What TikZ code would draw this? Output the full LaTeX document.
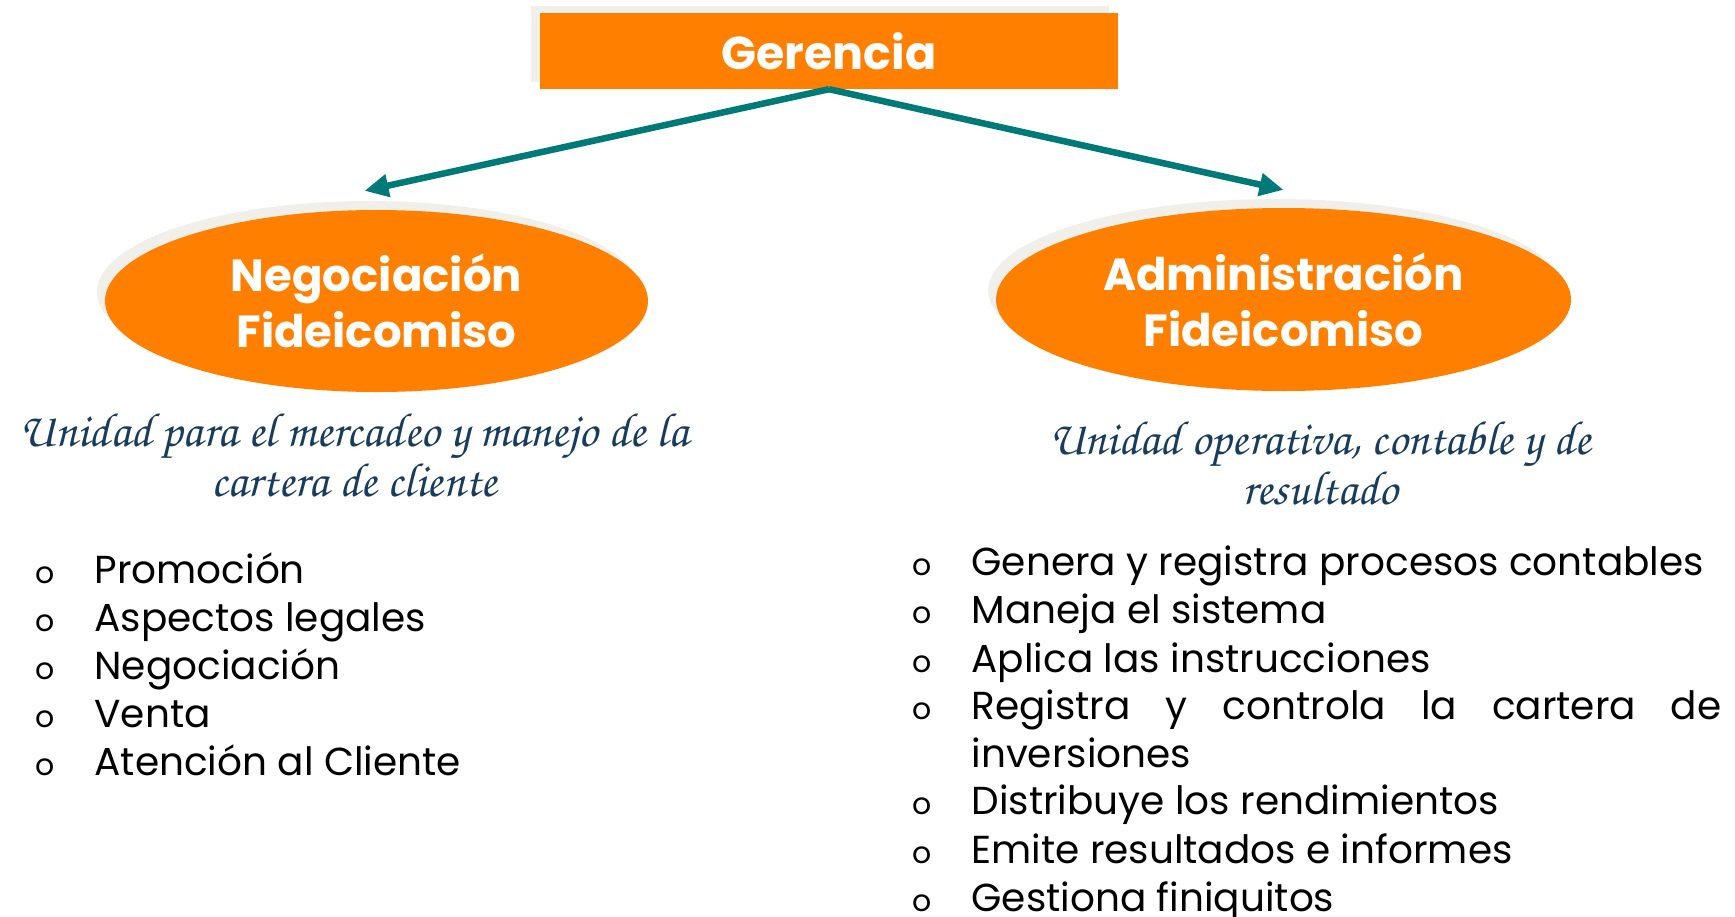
\documentclass[tikz,border=0pt]{standalone}
\usepackage{fontspec}
\setmainfont{Poppins}
\newfontfamily\notafont{TeX Gyre Chorus}
\usetikzlibrary{arrows.meta,shapes.geometric,shadows}

\definecolor{naranja}{RGB}{255,128,0}
\definecolor{sombra}{RGB}{240,239,234}
\definecolor{verdeazul}{RGB}{0,122,120}
\definecolor{azulnota}{RGB}{24,60,94}

\begin{document}
\begin{tikzpicture}[x=1pt,y=-1pt,>={Triangle[length=24pt,width=22pt]},
    caja/.style={rectangle,fill=naranja,text=white,inner sep=0pt,
      minimum width=578pt,minimum height=76pt,
      font=\bfseries\fontsize{46}{54}\selectfont,
      drop shadow={shadow xshift=-9pt,shadow yshift=7pt,fill=sombra,opacity=1}},
    unidad/.style={ellipse,fill=naranja,text=white,align=center,inner sep=0pt,
      font=\bfseries\fontsize{45}{56}\selectfont,
      drop shadow={shadow xshift=-8pt,shadow yshift=9pt,fill=sombra,opacity=1}},
    nota/.style={align=center,text=azulnota,font=\notafont\fontsize{48}{50}\selectfont},
    punto/.style={anchor=base,font=\fontsize{30}{36}\selectfont},
    tarea/.style={anchor=base west,font=\fontsize{39}{48}\selectfont},
    flecha/.style={->,draw=verdeazul,line width=6.5pt}]

  \useasboundingbox (0,0) rectangle (1735,916);

  \node[caja] (ger) at (829,51) {Gerencia};
  \node[unidad,minimum width=543pt,minimum height=182pt] (neg) at (376.5,301) {Negociación\\Fideicomiso};
  \node[unidad,minimum width=575pt,minimum height=183pt] (adm) at (1283.5,299.5) {Administración\\Fideicomiso};

  \node[nota] (negnota) at (354,456) {Unidad para el mercadeo y manejo de la\\cartera de cliente};
  \node[nota] (admnota) at (1320,464) {Unidad operativa, contable y de\\resultado};

  % flechas
  \path (neg.north) ++(-12,-19) coordinate (negin);
  \path (adm.north) ++(0,-18) coordinate (admin);
  \draw[flecha] (ger.south) -- (negin);
  \draw[flecha] (ger.south) -- (admin);

  % tareas de negociacion
  \foreach \tarea [count=\i] in {Promoción,Aspectos legales,Negociación,Venta,Atención al Cliente}{
    \node[punto] (np\i) at (45,{583+48*(\i-1)}) {o};
    \node[tarea] (nt\i) at (91,{583+48*(\i-1)}) {\tarea};
  }

  % tareas de administracion
  \foreach \y/\tarea [count=\i] in {575/Genera y registra procesos contables,
      623/Maneja el sistema,672/Aplica las instrucciones,
      719/{\makebox[750pt][s]{Registra y controla la cartera de}},
      814/Distribuye los rendimientos,863/Emite resultados e informes,
      911/Gestiona finiquitos}{
    \node[punto] (ap\i) at (922,\y) {o};
    \node[tarea] (at\i) at (968,\y) {\tarea};
  }
  \node[tarea] (atinv) at (968,767) {inversiones};
\end{tikzpicture}
\end{document}
